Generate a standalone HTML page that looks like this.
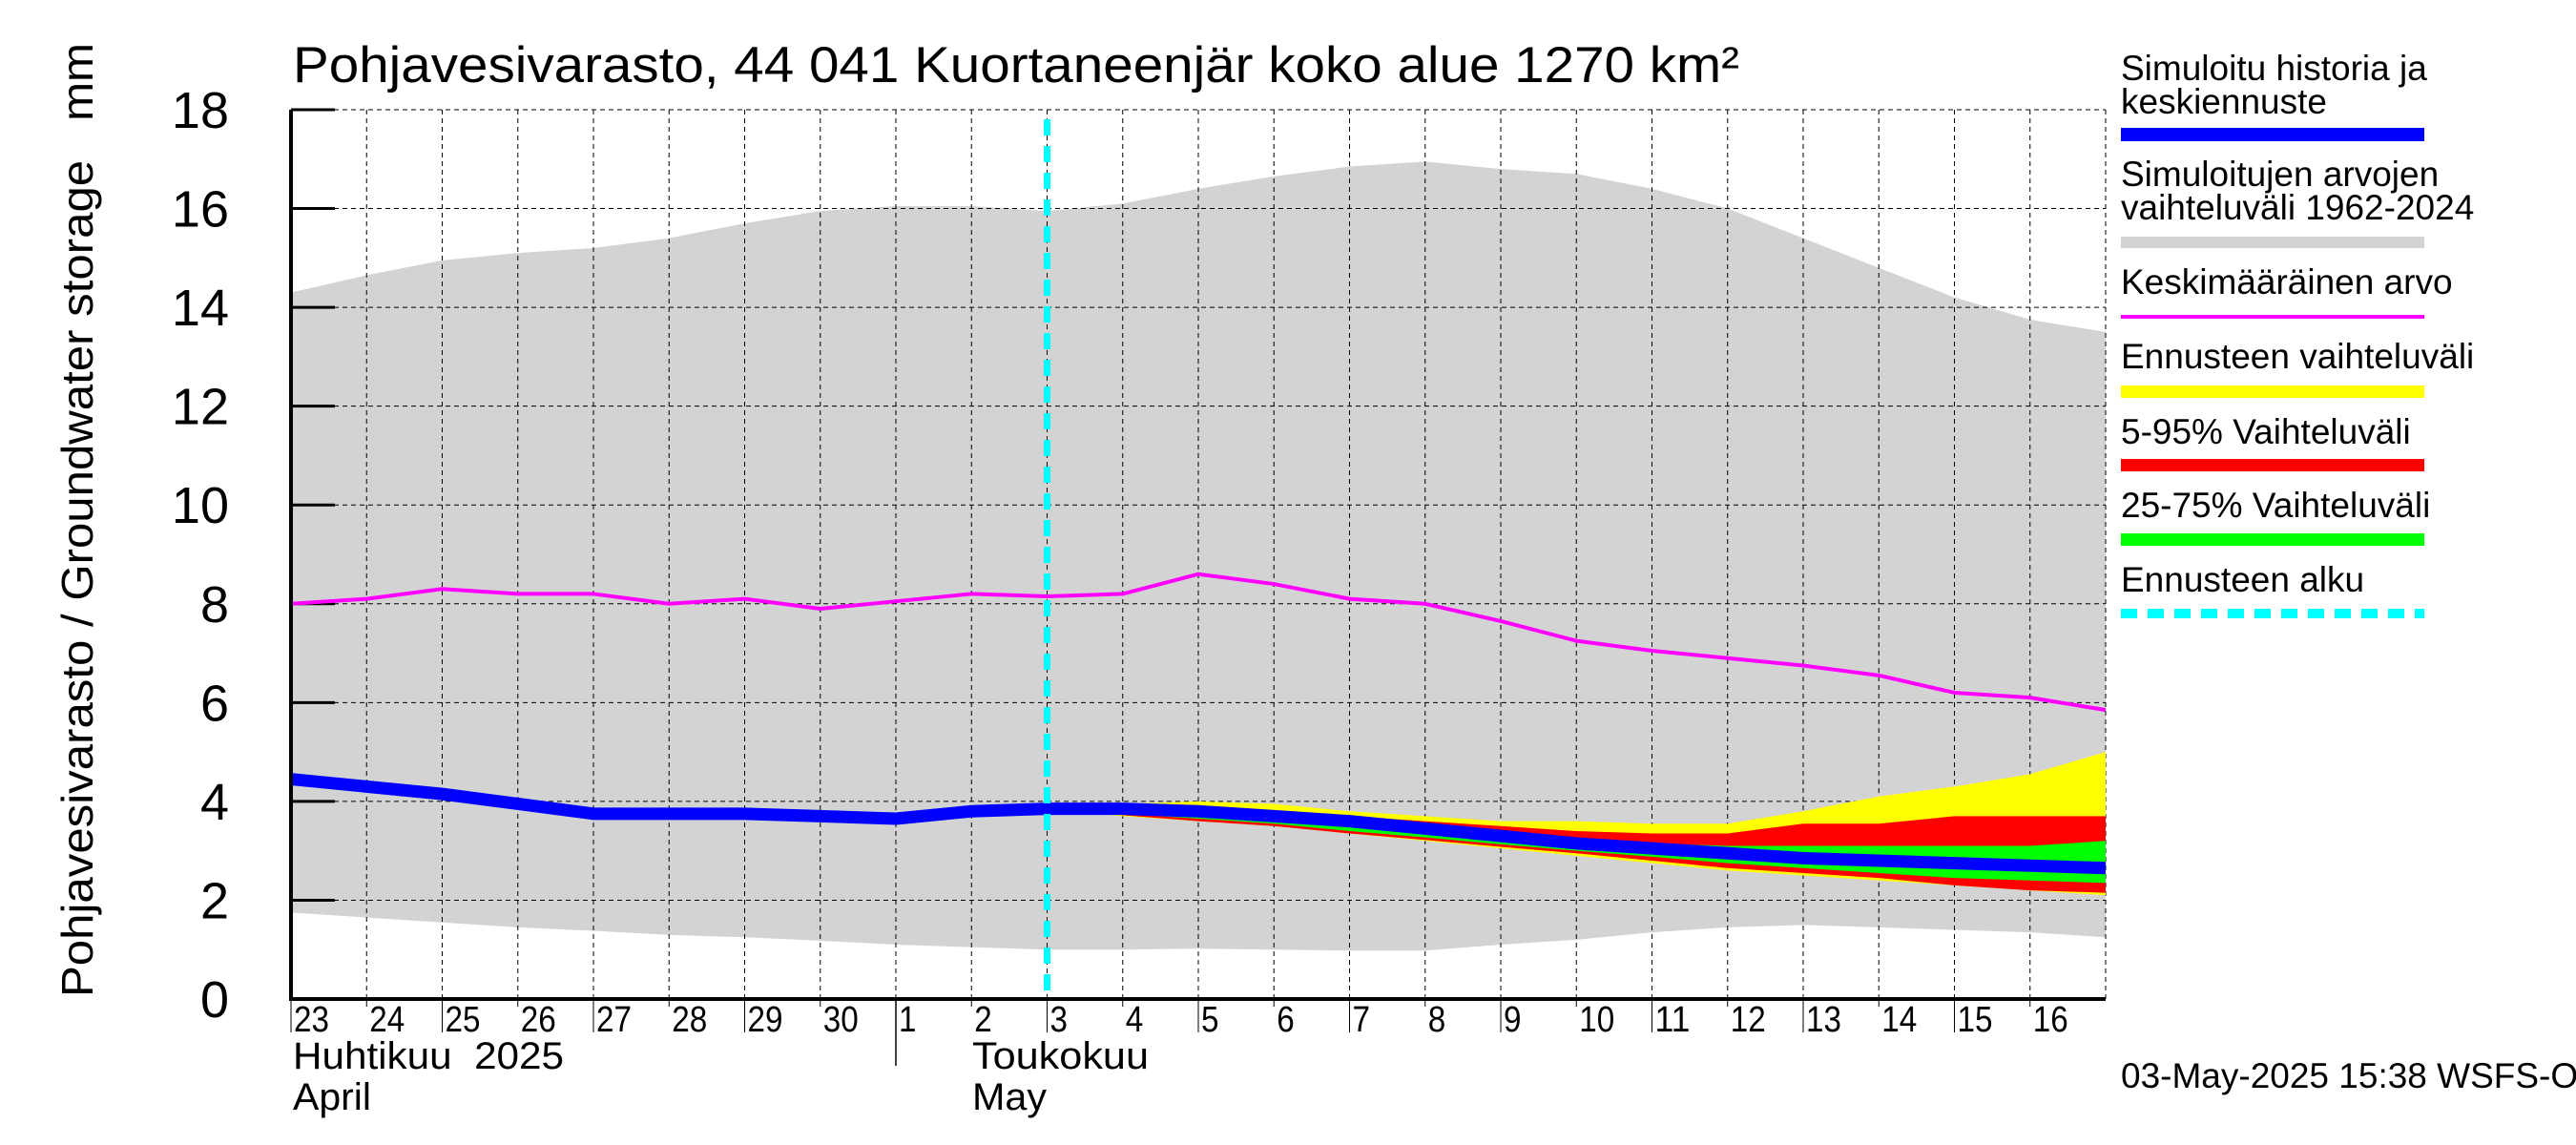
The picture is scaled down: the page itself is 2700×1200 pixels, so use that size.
<!DOCTYPE html>
<html><head><meta charset="utf-8"><style>
body{margin:0;background:#fff}
svg{display:block;font-family:"Liberation Sans",sans-serif}
</style></head><body>
<svg id="chart" width="2700" height="1200" viewBox="0 0 2700 1200" xmlns="http://www.w3.org/2000/svg">
<g id="plot"></g>
<text x="307" y="86" font-size="53" textLength="1516" lengthAdjust="spacingAndGlyphs">Pohjavesivarasto, 44 041 Kuortaneenjär koko alue 1270 km²</text>
<text transform="translate(97,545) rotate(-90)" text-anchor="middle" font-size="46" textLength="1000" lengthAdjust="spacingAndGlyphs" style="white-space:pre">Pohjavesivarasto / Groundwater storage&#160;&#160;&#160;mm</text>
<text x="307" y="1120" font-size="40" textLength="284" lengthAdjust="spacingAndGlyphs" style="white-space:pre">Huhtikuu&#160;&#160;2025</text>
<text x="307" y="1163" font-size="40" textLength="82" lengthAdjust="spacingAndGlyphs">April</text>
<text x="1019" y="1120" font-size="40" textLength="185" lengthAdjust="spacingAndGlyphs">Toukokuu</text>
<text x="1019" y="1163" font-size="40" textLength="78" lengthAdjust="spacingAndGlyphs">May</text>
<line x1="939" y1="1047" x2="939" y2="1117" stroke="#000" stroke-width="1.5"/>
<g font-size="37">
<text x="2223" y="84">Simuloitu historia ja</text>
<text x="2223" y="119">keskiennuste</text>
<rect x="2223" y="134" width="318" height="14" fill="#0000ff"/>
<text x="2223" y="195">Simuloitujen arvojen</text>
<text x="2223" y="230">vaihteluväli 1962-2024</text>
<rect x="2223" y="248" width="318" height="12" fill="#d3d3d3"/>
<text x="2223" y="308">Keskimääräinen arvo</text>
<rect x="2223" y="330" width="318" height="4" fill="#ff00ff"/>
<text x="2223" y="386">Ennusteen vaihteluväli</text>
<rect x="2223" y="404" width="318" height="13" fill="#ffff00"/>
<text x="2223" y="465">5-95% Vaihteluväli</text>
<rect x="2223" y="481" width="318" height="13" fill="#ff0000"/>
<text x="2223" y="542">25-75% Vaihteluväli</text>
<rect x="2223" y="559" width="318" height="13" fill="#00ff00"/>
<text x="2223" y="620">Ennusteen alku</text>
<line x1="2223" y1="643" x2="2541" y2="643" stroke="#00ffff" stroke-width="10" stroke-dasharray="17,11"/>
</g>
<text x="2223" y="1140" font-size="37">03-May-2025 15:38 WSFS-O</text>
</svg>
<script>
const days = ["23","24","25","26","27","28","29","30","1","2","3","4","5","6","7","8","9","10","11","12","13","14","15","16"];
const yTicks = [0,2,4,6,8,10,12,14,16,18];
const rangeUpper = [14.3,14.65,14.95,15.1,15.2,15.4,15.7,15.95,16.05,16.05,15.95,16.1,16.4,16.65,16.85,16.95,16.8,16.7,16.4,16.0,15.4,14.8,14.2,13.75,13.5];
const rangeLower = [1.75,1.65,1.55,1.45,1.38,1.3,1.25,1.18,1.1,1.05,1.0,1.0,1.02,1.0,0.98,0.98,1.1,1.2,1.35,1.45,1.5,1.45,1.4,1.35,1.25];
const meanValues = [8.0,8.1,8.3,8.2,8.2,8.0,8.1,7.9,8.05,8.2,8.15,8.2,8.6,8.4,8.1,8.0,7.65,7.25,7.05,6.9,6.75,6.55,6.2,6.1,5.85];
const blueValues = [4.45,4.3,4.15,3.95,3.75,3.75,3.75,3.7,3.65,3.8,3.85,3.85,3.8,3.7,3.6,3.45,3.3,3.15,3.05,2.95,2.85,2.8,2.75,2.7,2.65];
const forecastStartIndex = 10;
const yellowTop = [3.85,3.95,4.0,3.95,3.8,3.7,3.6,3.6,3.55,3.55,3.8,4.1,4.3,4.55,5.0];
const yellowBottom = [3.85,3.7,3.6,3.5,3.35,3.2,3.05,2.9,2.75,2.6,2.5,2.4,2.3,2.2,2.1];
const redTop = [3.85,3.9,3.85,3.75,3.7,3.6,3.5,3.4,3.35,3.35,3.55,3.55,3.7,3.7,3.7];
const redBottom = [3.85,3.72,3.6,3.5,3.35,3.22,3.08,2.95,2.8,2.65,2.55,2.45,2.3,2.2,2.15];
const greenTop = [3.85,3.85,3.8,3.7,3.6,3.45,3.35,3.2,3.15,3.1,3.1,3.1,3.1,3.1,3.2];
const greenBottom = [3.85,3.75,3.65,3.55,3.4,3.27,3.13,3.0,2.88,2.75,2.65,2.55,2.45,2.4,2.35];
const forecastLineIndex = 10;

const NS = "http://www.w3.org/2000/svg";
const X0 = 305, X1 = 2207, Y0 = 1047, Y1 = 115, NDAYS = 24, YMAX = 18;
const xs = i => X0 + (X1 - X0) * i / NDAYS;
const ys = v => Y0 - (Y0 - Y1) * v / YMAX;
const plot = document.getElementById('plot');
function mk(tag, attrs) { const e = document.createElementNS(NS, tag); for (const k in attrs) e.setAttribute(k, attrs[k]); plot.appendChild(e); return e; }
function band(top, bot, off, fill, name) {
  let d = top.map((v, i) => (i ? 'L' : 'M') + xs(Math.min(i + off, NDAYS)) + ',' + ys(v)).join('');
  for (let i = bot.length - 1; i >= 0; i--) d += 'L' + xs(Math.min(i + off, NDAYS)) + ',' + ys(bot[i]);
  const p = mk('path', { d: d + 'Z', fill: fill });
  
  
}
function line(vals, off, stroke, w, name) {
  const p = mk('polyline', { points: vals.map((v, i) => xs(i + off) + ',' + ys(v)).join(' '), fill: 'none', stroke: stroke, 'stroke-width': w, 'stroke-linejoin': 'round' });
  
  
}
band(rangeUpper, rangeLower, 0, '#d3d3d3', 'historical-range-band');
for (let i = 1; i <= NDAYS; i++) {
  const g = mk('line', { x1: xs(i), y1: Y1, x2: xs(i), y2: Y0, stroke: '#000', 'stroke-width': 1, 'stroke-dasharray': '5,4' });
  
  
}
yTicks.forEach(v => {
  if (v > 0) {
    const g = mk('line', { x1: X0, y1: ys(v), x2: X1, y2: ys(v), stroke: '#000', 'stroke-width': 1, 'stroke-dasharray': '5,4' });
    
    
    const t = mk('line', { x1: X0, y1: ys(v), x2: X0 + 46, y2: ys(v), stroke: '#000', 'stroke-width': 3 });
    
    
  }
  const l = mk('text', { x: 240, y: ys(v) + 19, 'text-anchor': 'end', 'font-size': 54 });
  l.textContent = v;
  
  
});
band(yellowTop, yellowBottom, forecastStartIndex, '#ffff00', 'forecast-range-band');
band(redTop, redBottom, forecastStartIndex, '#ff0000', 'band-5-95');
band(greenTop, greenBottom, forecastStartIndex, '#00ff00', 'band-25-75');
line(meanValues, 0, '#ff00ff', 4, 'mean-line');
line(blueValues, 0, '#0000ff', 13, 'simulated-line');
const fl = mk('line', { x1: xs(forecastLineIndex), y1: Y1 + 10, x2: xs(forecastLineIndex), y2: Y0, stroke: '#00ffff', 'stroke-width': 7, 'stroke-dasharray': '17,11' });


const ax = mk('path', { d: `M${X0},${Y1}L${X0},${Y0}L${X1},${Y0}`, fill: 'none', stroke: '#000', 'stroke-width': 4 });


const tb = mk('line', { x1: X0, y1: Y1, x2: X1, y2: Y1, stroke: '#000', 'stroke-width': 1, 'stroke-dasharray': '5,4' });


days.forEach((d, i) => {
  const tk = mk('line', { x1: xs(i), y1: Y0, x2: xs(i), y2: i % 2 === 0 ? 1082 : 1055, stroke: '#000', 'stroke-width': 1 });
  
  
  const t = mk('text', { x: xs(i) + 3, y: 1081, 'font-size': 38, textLength: d.length * 18.5, lengthAdjust: 'spacingAndGlyphs' });
  t.textContent = d;
  
  
});
</script>
</body></html>
